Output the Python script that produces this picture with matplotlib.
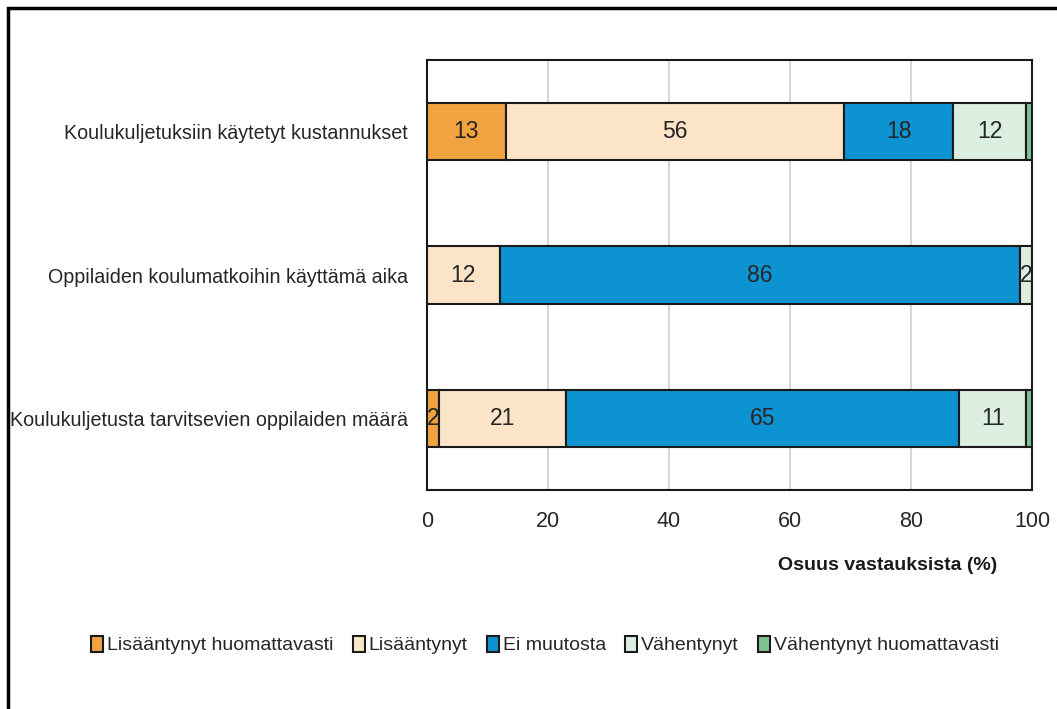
import matplotlib
matplotlib.use("Agg")
import matplotlib.pyplot as plt
from matplotlib.patches import Rectangle
from matplotlib import font_manager

categories = [
    "Koulukuljetusta tarvitsevien oppilaiden määrä",
    "Oppilaiden koulumatkoihin käyttämä aika",
    "Koulukuljetuksiin käytetyt kustannukset",
]
series_names = [
    "Lisääntynyt huomattavasti",
    "Lisääntynyt",
    "Ei muutosta",
    "Vähentynyt",
    "Vähentynyt huomattavasti",
]
values = {
    "Lisääntynyt huomattavasti": [2, 0, 13],
    "Lisääntynyt": [21, 12, 56],
    "Ei muutosta": [65, 86, 18],
    "Vähentynyt": [11, 2, 12],
    "Vähentynyt huomattavasti": [1, 0, 1],
}
colors = ["#F0A33F", "#FCE4C8", "#0E93D2", "#DCEEDF", "#7FC490"]
xticks = [0, 20, 40, 60, 80, 100]

names = {f.name for f in font_manager.fontManager.ttflist}
fam = "Liberation Sans Narrow" if "Liberation Sans Narrow" in names else "Liberation Sans"
plt.rcParams["font.family"] = [fam, "DejaVu Sans"]

W, H = 1057, 709
fig = plt.figure(figsize=(W / 100, H / 100), dpi=100)
ax = fig.add_axes([427 / W, 1 - 490 / H, (1032 - 427) / W, (490 - 60) / H])

ypos = list(range(len(categories)))
left = [0] * len(categories)
for name, col in zip(series_names, colors):
    vals = values[name]
    ax.barh(ypos, vals, left=left, height=0.4, color=col,
            edgecolor="#1a1a1a", linewidth=1.5, zorder=3, label=name)
    for y, v, l in zip(ypos, vals, left):
        if v >= 2:
            ax.text(l + v / 2, y, str(v), ha="center", va="center",
                    fontsize=16.5, color="#262626", zorder=4)
    left = [a + b for a, b in zip(left, vals)]

ax.set_xlim(0, 100)
ax.set_ylim(-0.5, 2.5)
ax.set_xticks(xticks)
ax.set_xticklabels([str(t) for t in xticks], fontsize=15.5, color="#262626")
ax.set_yticks(ypos)
ax.set_yticklabels(categories, fontsize=14.2, color="#262626")
ax.tick_params(axis="both", length=0)
ax.tick_params(axis="x", pad=15)
ax.tick_params(axis="y", pad=14)
ax.grid(axis="x", color="#d0d0d0", linewidth=1.2, zorder=0)
for s in ax.spines.values():
    s.set_color("#1a1a1a")
    s.set_linewidth(1.5)
ax.set_xlabel("Osuus vastauksista (%)", fontsize=14, fontweight="bold",
              color="#1a1a1a", labelpad=18, x=0.762)

fig.legend(loc="center", bbox_to_anchor=(545 / W, 1 - 645 / H), ncol=5,
           frameon=False, fontsize=14, handlelength=0.6, handleheight=0.9,
           handletextpad=0.2, columnspacing=1.0, labelcolor="#262626")

fig.patches.append(Rectangle((8 / W, -0.1), 1.2, 1 - 8 / H + 0.1,
                             transform=fig.transFigure, fill=False,
                             edgecolor="black", linewidth=2.5))

fig.savefig("out.png", dpi=100)
